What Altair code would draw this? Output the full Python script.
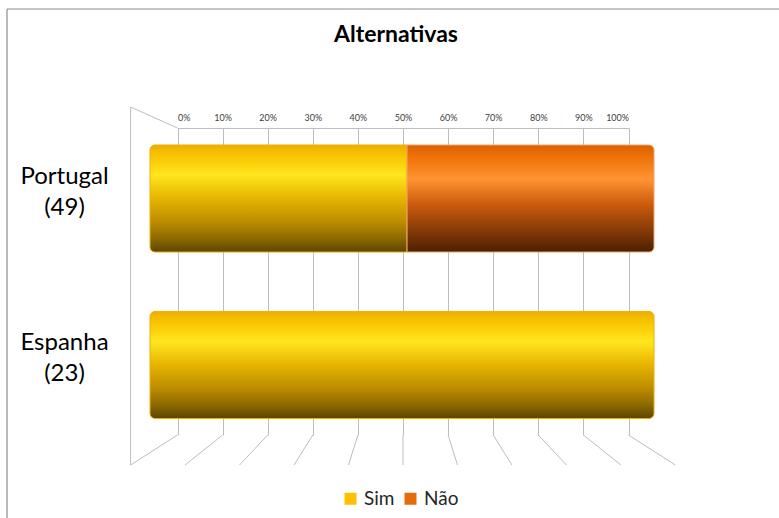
import altair as alt
import pandas as pd

# ---- data ----
countries = ["Portugal\n(49)", "Espanha\n(23)"]
series = ["Sim", "Não"]
sim_pct = [51, 100]
nao_pct = [49, 0]
tick_values = [0, 10, 20, 30, 40, 50, 60, 70, 80, 90, 100]
series_colors = ["#FFC000", "#E46C0A"]

rows = []
for c, s_val, n_val in zip(countries, sim_pct, nao_pct):
    rows.append({"country": c, "series": "Sim", "value": s_val, "order": 0})
    rows.append({"country": c, "series": "Não", "value": n_val, "order": 1})
bar_df = pd.DataFrame(rows)
tick_df = pd.DataFrame({"v": tick_values})

GRID = "#BDBDBD"
FONT = "Lato"

# ---- back wall / floor (3-D frame) ----
wall_scale = alt.Scale(domain=[0, 100], range=[47.5, 498.5], nice=False, zero=False)
wall_base = alt.Chart(tick_df).transform_calculate(floor="50 + (datum.v - 50) * 1.208")

floor_lines = wall_base.mark_rule(color=GRID, strokeWidth=1).encode(
    x=alt.X(
        "v:Q",
        scale=wall_scale,
        axis=alt.Axis(
            orient="top", values=tick_values, labelExpr="datum.value + '%'",
            grid=True, gridColor=GRID, gridWidth=1, domain=True, domainColor=GRID,
            ticks=False, tickSize=0, labelPadding=6, labelFontSize=9,
            labelColor="#404040", labelFont=FONT, title=None,
        ),
    ),
    x2="floor:Q",
    y=alt.value(307),
    y2=alt.value(337),
)

left_wall_v = wall_base.transform_filter("datum.v == 0").mark_rule(color=GRID, strokeWidth=1).encode(
    x=alt.X("floor:Q", scale=wall_scale, title=None),
    y=alt.value(-21),
    y2=alt.value(337),
)
left_wall_d = wall_base.transform_filter("datum.v == 0").mark_rule(color=GRID, strokeWidth=1).encode(
    x=alt.X("floor:Q", scale=wall_scale, title=None),
    x2="v:Q",
    y=alt.value(-21),
    y2=alt.value(0),
)

# outer chart border (top and left edges visible in the reference)
border_top = wall_base.transform_filter("datum.v == 0").mark_rule(color="#8C8C8C", strokeWidth=1.2).encode(
    x=alt.value(-123), x2=alt.value(660), y=alt.value(-119)
)
border_left = wall_base.transform_filter("datum.v == 0").mark_rule(color="#8C8C8C", strokeWidth=1.2).encode(
    x=alt.value(-123), y=alt.value(-119), y2=alt.value(400)
)

wall_layer = alt.layer(floor_lines, left_wall_v, left_wall_d, border_top, border_left)

# ---- cylinders ----
bar_scale = alt.Scale(domain=[0, 100], range=[20, 524], nice=False)
y_enc = alt.Y(
    "country:N",
    sort=countries,
    scale=alt.Scale(range=[17, 290.5], paddingInner=0.357, paddingOuter=0),
    axis=alt.Axis(
        title=None, domain=False, ticks=False, grid=False,
        labelExpr="split(datum.value, '\\n')",
        labelFont=FONT, labelFontSize=24, labelColor="#000000",
        labelAlign="center", labelBaseline="middle", labelPadding=66,
        labelLineHeight=31, labelOffset=-22,
    ),
)

bar_base = alt.Chart(bar_df).transform_stack(
    stack="value", groupby=["country"], as_=["x0", "x1"],
    sort=[alt.SortField("order", order="ascending")],
).transform_filter("datum.value > 0")

legend_layer = bar_base.mark_bar(opacity=0).encode(
    x=alt.X("x0:Q", scale=bar_scale, axis=None),
    x2="x1:Q",
    y=y_enc,
    color=alt.Color(
        "series:N",
        scale=alt.Scale(domain=series, range=series_colors),
        legend=alt.Legend(
            orient="none", legendX=211, legendY=361, direction="horizontal",
            title=None, symbolType="square", symbolSize=144, symbolOpacity=1,
            symbolStrokeWidth=0, labelFont=FONT, labelFontSize=19,
            labelColor="#262626", columnPadding=6, labelOffset=4,
        ),
    ),
)

sim_grad = alt.Gradient(
    gradient="linear", x1=0, x2=0, y1=0, y2=1,
    stops=[
        alt.GradientStop(offset=0, color="#EEAE00"),
        alt.GradientStop(offset=0.1, color="#F8C400"),
        alt.GradientStop(offset=0.28, color="#FFE61E"),
        alt.GradientStop(offset=0.5, color="#E6B400"),
        alt.GradientStop(offset=0.72, color="#BC8C00"),
        alt.GradientStop(offset=0.88, color="#8A6800"),
        alt.GradientStop(offset=1, color="#5A4400"),
    ],
)
nao_grad = alt.Gradient(
    gradient="linear", x1=0, x2=0, y1=0, y2=1,
    stops=[
        alt.GradientStop(offset=0, color="#DC6000"),
        alt.GradientStop(offset=0.12, color="#EE7408"),
        alt.GradientStop(offset=0.32, color="#FF9434"),
        alt.GradientStop(offset=0.55, color="#CC5C0C"),
        alt.GradientStop(offset=0.8, color="#853A08"),
        alt.GradientStop(offset=1, color="#4A2000"),
    ],
)

enc = dict(x=alt.X("x0:Q", scale=bar_scale, axis=None), x2="x1:Q", y=y_enc)

sim_part = bar_base.transform_filter("datum.series == 'Sim' && datum.x1 < 100").mark_bar(
    fill=sim_grad, stroke="#F2AE00", strokeWidth=1,
    cornerRadiusTopLeft=5, cornerRadiusBottomLeft=5,
).encode(**enc)
sim_full = bar_base.transform_filter("datum.series == 'Sim' && datum.x1 >= 100").mark_bar(
    fill=sim_grad, stroke="#F2AE00", strokeWidth=1, cornerRadius=5,
).encode(**enc)
nao_part = bar_base.transform_filter("datum.series == 'Não'").mark_bar(
    fill=nao_grad, stroke="#F4A46A", strokeWidth=1,
    cornerRadiusTopRight=5, cornerRadiusBottomRight=5,
).encode(**enc)

bar_layer = alt.layer(legend_layer, sim_part, sim_full, nao_part)

chart = (
    alt.layer(wall_layer, bar_layer)
    .resolve_scale(x="independent")
    .properties(
        width=546,
        height=307,
        autosize=alt.AutoSizeParams(type="none"),
        padding={"left": 130, "top": 128, "right": 103, "bottom": 83},
        title=alt.TitleParams(
            text="Alternativas", font=FONT, fontSize=23, fontWeight="bold",
            color="#000000", anchor="middle", offset=-57, dx=-7,
            baseline="alphabetic",
        ),
        background="#FFFFFF",
    )
    .configure_view(stroke=None)
)

chart.save("out.html", embed_options={"renderer": "svg", "actions": False})
